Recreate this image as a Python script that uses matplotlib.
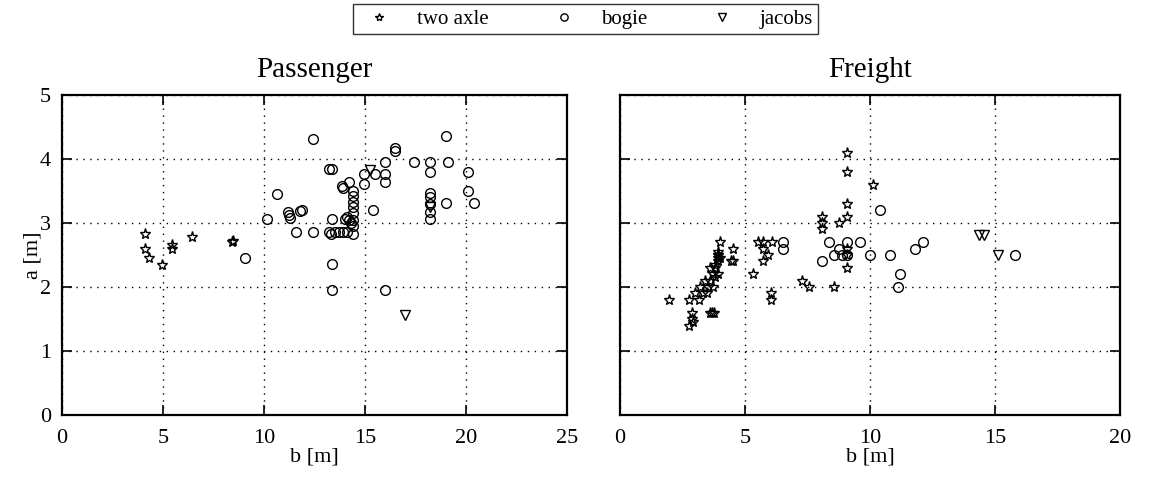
import matplotlib
matplotlib.use('Agg')
import matplotlib.pyplot as plt
import numpy as np

plt.rcParams['font.family'] = ['Liberation Serif', 'DejaVu Serif']
plt.rcParams['mathtext.fontset'] = 'stix'

# Passenger vehicles (b, a) in metres
pas_two_b = [4.1, 4.1, 4.3, 4.95, 5.45, 5.45, 6.45, 8.4, 8.45]
pas_two_a = [2.83, 2.59, 2.45, 2.34, 2.66, 2.6, 2.78, 2.70, 2.72]

pas_bog_b = [10.15, 10.65, 11.2, 11.3, 11.25, 11.8, 11.9, 11.6, 9.05,
             12.4, 13.2, 13.35, 13.85, 13.9, 14.2, 14.4, 14.4, 14.4, 14.4, 14.4,
             14.4, 14.4, 14.3, 12.4, 13.2, 13.3, 13.5, 13.7, 13.9, 14.1,
             14.4, 13.35, 14.0, 14.1, 14.2, 13.35, 13.35, 16.0, 14.95, 14.95,
             15.4, 15.5, 16.0, 16.0, 16.0, 16.5, 16.5, 17.4, 18.2, 18.2,
             18.2, 18.2, 18.2, 18.2, 18.2, 19.0, 19.0, 19.1, 20.1, 20.1, 20.4]
pas_bog_a = [3.06, 3.45, 3.17, 3.08, 3.12, 3.19, 3.2, 2.86, 2.45,
             4.31, 3.84, 3.84, 3.58, 3.55, 3.64, 3.5, 3.42, 3.33, 3.25, 3.15,
             3.05, 2.95, 3.0, 2.86, 2.86, 2.83, 2.86, 2.86, 2.86, 2.86,
             2.83, 3.06, 3.06, 3.1, 3.05, 2.36, 1.95, 1.95, 3.61, 3.76,
             3.2, 3.76, 3.76, 3.64, 3.95, 4.17, 4.12, 3.95, 3.95, 3.8,
             3.47, 3.4, 3.3, 3.17, 3.06, 4.36, 3.31, 3.95, 3.8, 3.5, 3.31]

pas_jac_b = [15.25, 18.2, 17.0]
pas_jac_a = [3.83, 3.25, 1.56]

# Freight vehicles (b, a) in metres
fr_two_b = [1.96, 2.76, 2.76, 2.87, 2.87, 3.17, 3.0, 3.2, 3.47, 3.4,
            3.67, 3.6, 3.75, 3.5, 3.6, 3.7, 3.8, 3.9, 3.9, 3.9, 3.9, 4.0,
            3.7, 3.8, 3.9, 3.6, 3.8, 3.93, 4.0, 4.5, 4.5, 4.45, 5.33, 5.53,
            5.73, 6.07, 5.73, 5.93, 5.73, 6.04, 6.04, 7.27, 7.57, 8.57,
            8.07, 8.07, 8.07, 8.77, 9.07, 9.07, 9.07, 9.07, 9.07, 9.07,
            9.07, 10.1, 2.9, 3.3]
fr_two_a = [1.8, 1.8, 1.39, 1.6, 1.5, 1.8, 1.9, 2.0, 1.9, 2.1,
            1.6, 1.6, 1.6, 2.0, 2.1, 2.2, 2.3, 2.4, 2.5, 2.45, 2.55, 2.7,
            2.0, 2.15, 2.2, 2.3, 2.35, 2.5, 2.45, 2.6, 2.4, 2.4, 2.2, 2.7,
            2.7, 2.7, 2.6, 2.5, 2.4, 1.9, 1.8, 2.1, 2.0, 2.0,
            3.1, 3.0, 2.9, 3.0, 4.1, 3.8, 3.3, 3.1, 2.6, 2.5,
            2.3, 3.6, 1.45, 1.9]

fr_bog_b = [6.53, 6.53, 8.07, 8.37, 8.57, 8.77, 8.87, 9.07, 9.07, 9.6,
            10.0, 10.4, 10.8, 11.2, 11.1, 11.8, 12.1, 15.8]
fr_bog_a = [2.7, 2.6, 2.4, 2.7, 2.5, 2.6, 2.5, 2.7, 2.5, 2.7,
            2.5, 3.2, 2.5, 2.2, 2.0, 2.6, 2.7, 2.5]

fr_jac_b = [14.35, 14.55, 15.1]
fr_jac_a = [2.81, 2.81, 2.5]

fig = plt.figure(figsize=(11.51, 4.78), dpi=100)
ax1 = fig.add_axes([0.0539, 0.1318, 0.4388, 0.6695])
ax2 = fig.add_axes([0.5387, 0.1318, 0.4344, 0.6695])

def draw(ax, tb, ta, bb, ba, jb, ja):
    h1, = ax.plot(tb, ta, ls='none', marker='*', ms=8, mfc='none', mec='k', mew=1.0)
    h2, = ax.plot(bb, ba, ls='none', marker='o', ms=7, mfc='none', mec='k', mew=1.0)
    h3, = ax.plot(jb, ja, ls='none', marker='v', ms=7.5, mfc='none', mec='k', mew=1.0)
    ax.grid(True, color='k', ls=(0, (1, 4)), lw=1.0)
    ax.tick_params(direction='in', top=True, right=True, length=7, width=1.2,
                   labelsize=16)
    ax.tick_params(axis='x', pad=10)
    ax.tick_params(axis='y', pad=8)
    for s in ax.spines.values():
        s.set_linewidth(1.6)
    ax.set_ylim(0, 5)
    ax.set_yticks([0, 1, 2, 3, 4, 5])
    ax.set_xlabel('b [m]', fontsize=16, labelpad=0)
    return h1, h2, h3

h = draw(ax1, pas_two_b, pas_two_a, pas_bog_b, pas_bog_a, pas_jac_b, pas_jac_a)
draw(ax2, fr_two_b, fr_two_a, fr_bog_b, fr_bog_a, fr_jac_b, fr_jac_a)

ax1.set_xlim(0, 25)
ax1.set_xticks([0, 5, 10, 15, 20, 25])
ax2.set_xlim(0, 20)
ax2.set_xticks([0, 5, 10, 15, 20])
ax2.set_yticklabels([])
ax1.set_ylabel('a [m]', fontsize=16, labelpad=-2)
ax1.set_title('Passenger', fontsize=21, pad=13)
ax2.set_title('Freight', fontsize=21, pad=13)

leg = fig.legend(h, ['two axle', 'bogie', 'jacobs'], loc='upper center',
                 bbox_to_anchor=(0.509, 0.995), ncol=3, fontsize=15, frameon=True,
                 fancybox=False, edgecolor='k', markerscale=0.75, handlelength=2.0,
                 handletextpad=0.8, columnspacing=2.6, borderpad=0.25,
                 borderaxespad=0.1)
leg.get_frame().set_linewidth(1.0)

fig.savefig('out.png', dpi=100)
